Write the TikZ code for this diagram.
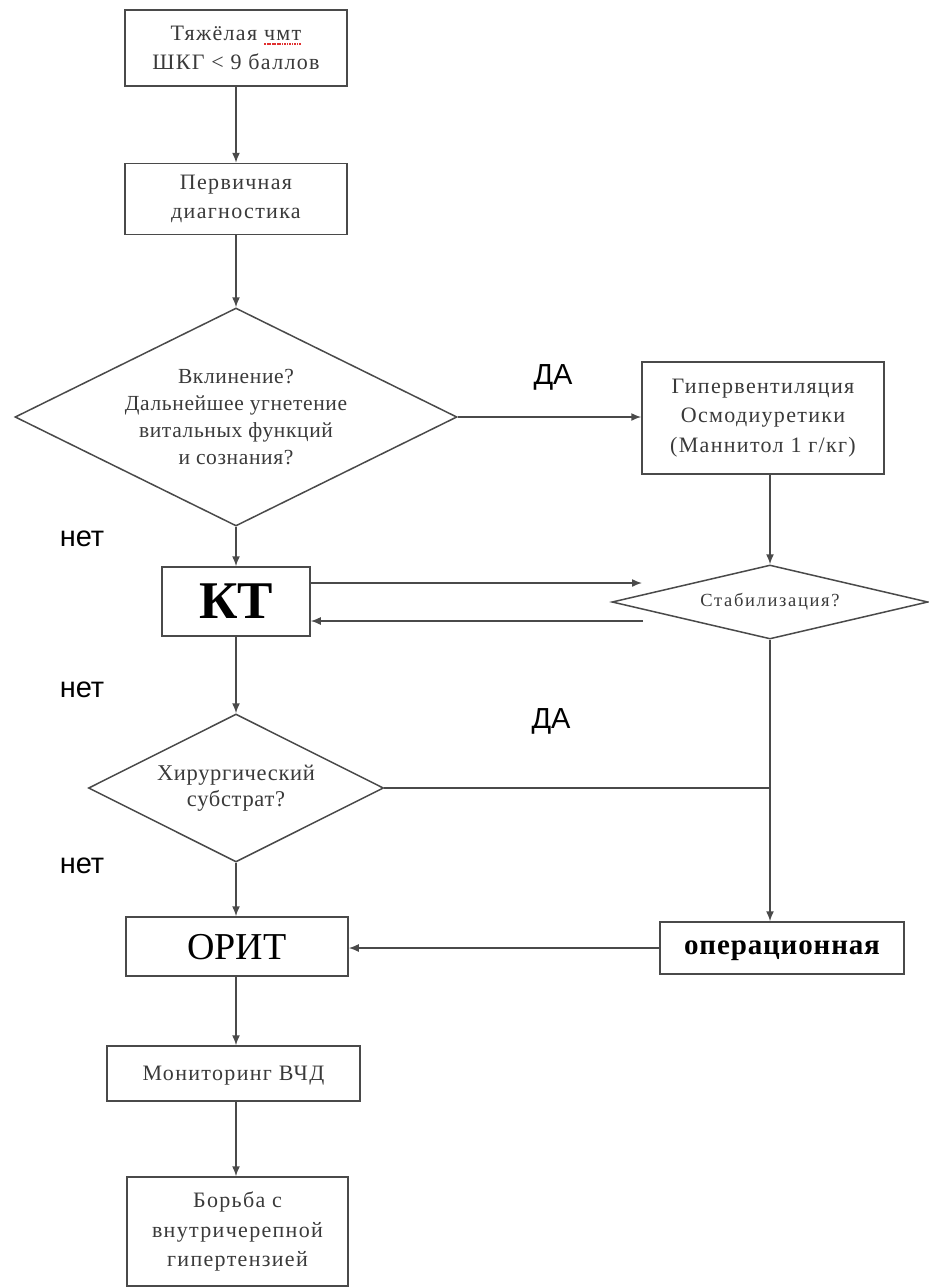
\documentclass[tikz,border=0pt]{standalone}
\usepackage{fontspec}
\setmainfont{Liberation Serif}
\newfontfamily\labelfont{Liberation Sans}
\newfontfamily\boxfont[LetterSpace=6]{Liberation Serif}
\newfontfamily\diafont[LetterSpace=3]{Liberation Serif}
\newfontfamily\stabfont[LetterSpace=9]{Liberation Serif}
\newfontfamily\operfont[LetterSpace=3]{Liberation Serif}
\usetikzlibrary{shapes.geometric,arrows.meta}
\definecolor{linec}{HTML}{4A4A4A}
\definecolor{textc}{HTML}{3A3A3A}
\definecolor{squigc}{HTML}{E03030}
\newcommand\redsquig[1]{\setbox0=\hbox{#1}\leavevmode\rlap{\copy0}\raisebox{-4.5pt}{\textcolor{squigc}{\hbox to \wd0{\xleaders\hbox to 2.4pt{\hss\rule{1.7pt}{1.7pt}\hss}\hfill}}}}
\tikzset{
  box/.style={draw=linec, line width=1.5pt, fill=white, align=center, inner sep=0pt,
    text=textc, font=\boxfont\fontsize{22}{29.5}\selectfont},
  dia/.style={diamond, draw=linec, line width=1.5pt, fill=white, align=center, inner sep=0pt,
    text=textc, font=\diafont\fontsize{21.5}{27}\selectfont},
  arr/.style={draw=linec, line width=1.5pt, -{Latex[length=10pt,width=8pt]}},
  ln/.style={draw=linec, line width=1.5pt},
  lab/.style={font=\labelfont\fontsize{29}{30}\selectfont, text=black, inner sep=0pt}
}
\begin{document}
\begin{tikzpicture}[x=1pt,y=-1pt]
\useasboundingbox[fill=white] (0,0) rectangle (929,1288);

% nodes
\node[box, minimum width=222pt, minimum height=76pt] (b1) at (236,48) {Тяжёлая \redsquig{чмт}\\ШКГ < 9 баллов};
\node[box, minimum width=222pt, minimum height=71pt] (b2) at (236,199) {Первичная\\диагностика};
\node[dia, aspect=2.03, minimum width=442pt, minimum height=218pt] (d1) at (236,417)
  {Вклинение?\\Дальнейшее угнетение\\витальных функций\\и сознания?};
\node[box, minimum width=242pt, minimum height=112pt] (b3) at (763,418)
  {Гипервентиляция\\Осмодиуретики\\(Маннитол 1 г/кг)};
\node[box, minimum width=148pt, minimum height=69pt, text depth=0pt, font=\bfseries\fontsize{53}{55}\selectfont, text=black] (kt) at (236,601.5) {КТ};
\node[dia, aspect=4.27, minimum width=316pt, minimum height=74pt, font=\stabfont\fontsize{18.5}{20}\selectfont] (d3) at (770,602) {Стабилизация?};
\node[dia, aspect=2, minimum width=295pt, minimum height=148pt, font=\diafont\fontsize{22.5}{26}\selectfont] (d2) at (236,788)
  {Хирургический\\субстрат?};
\node[box, minimum width=222pt, minimum height=59pt, text depth=0pt, font=\fontsize{38}{40}\selectfont, text=black] (orit) at (237,946.5) {ОРИТ};
\node[box, minimum width=244pt, minimum height=52pt, text depth=0pt, font=\operfont\bfseries\fontsize{29}{30}\selectfont, text=black] (oper) at (782,948) {операционная};
\node[box, minimum width=253pt, minimum height=55pt, text depth=0pt] (mon) at (233.5,1073.5) {Мониторинг ВЧД};
\node[box, minimum width=221pt, minimum height=109pt] (bor) at (237.5,1231.5)
  {Борьба с\\внутричерепной\\гипертензией};

% labels
\node[lab] (da1) at (553,377) {ДА};
\node[lab] (net1) at (82,539) {нет};
\node[lab] (net2) at (82,690) {нет};
\node[lab] (da2) at (551,721) {ДА};
\node[lab] (net3) at (82,866) {нет};

% free ends
\coordinate (s1) at (642,583);
\coordinate (s2) at (643,621);

% connectors
\draw[arr] (b1.south) -- (b2.north);
\draw[arr] (b2.south) -- (d1.north);
\draw[arr] (d1.east) -- (d1.east -| b3.west);
\draw[arr] (d1.south) -- (kt.north);
\draw[arr] (b3.south -| d3.north) -- (d3.north);
\draw[arr] (kt.east |- s1) -- (s1);
\draw[arr] (s2) -- (kt.east |- s2);
\draw[arr] (kt.south) -- (d2.north);
\draw[ln] (d2.east) -- (d2.east -| d3.south);
\draw[arr] (d3.south) -- (d3.south |- oper.north);
\draw[arr] (d2.south) -- (d2.south |- orit.north);
\draw[arr] (oper.west) -- (oper.west -| orit.east);
\draw[arr] (orit.south -| d2.south) -- (d2.south |- mon.north);
\draw[arr] (d2.south |- mon.south) -- (d2.south |- bor.north);
\end{tikzpicture}
\end{document}
